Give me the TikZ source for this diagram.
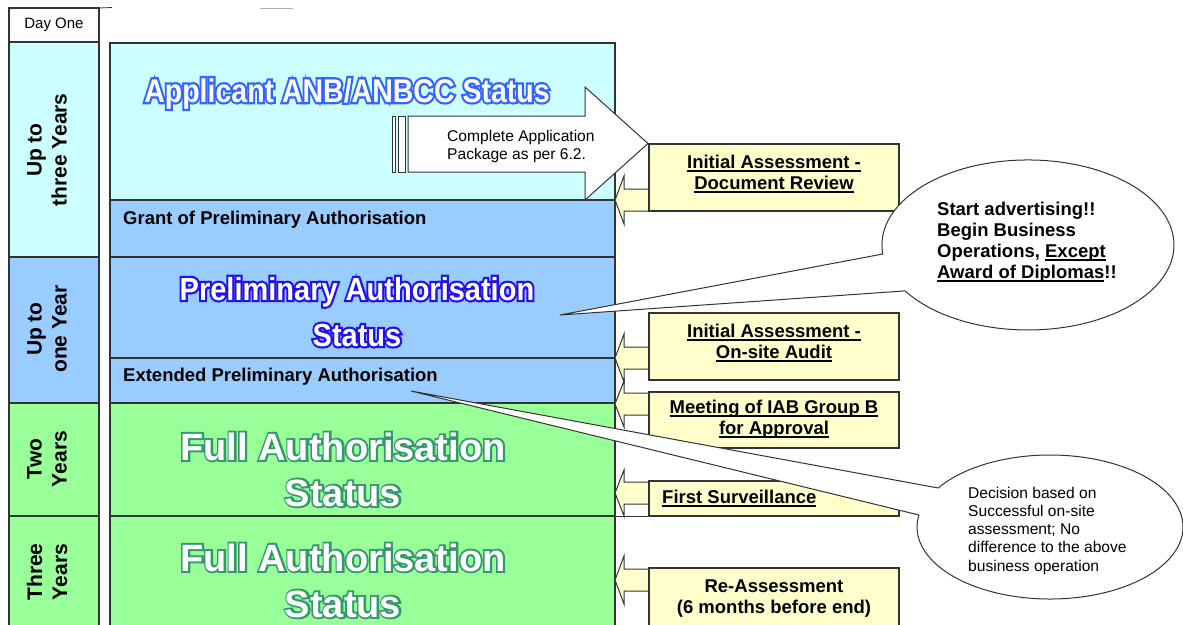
\documentclass[tikz,border=0pt]{standalone}
\usepackage{fontspec}
\setmainfont{Liberation Sans}
\newfontface\titlestroke[FakeBold=14]{Liberation Sans Bold}
\newfontface\titlestrokeg[FakeBold=10]{Liberation Sans Bold}
\newfontface\titlefill{Liberation Sans Bold}

\definecolor{cyanA}{HTML}{CCFFFF}
\definecolor{blueA}{HTML}{99CCFF}
\definecolor{greenA}{HTML}{99FF99}
\definecolor{yellowA}{HTML}{FFFFCC}
\definecolor{lineC}{HTML}{333333}
\definecolor{titleBlue}{HTML}{3366FF}
\definecolor{titleBlueB}{HTML}{2211EE}
\definecolor{titleGreen}{HTML}{33996A}

\newcommand\setfs[2]{\fontsize{#1pt}{#2pt}\selectfont}
\newcommand\ulbar[1]{\setbox0\hbox{#1}\rlap{\rule[-4pt]{\wd0}{1.6pt}}\box0}
\newcommand\mlines[2]{\begin{tabular}[t]{@{}#1@{}}#2\end{tabular}}
% #1 stroke face, #2 outline colour, #3 size, #4 vertical scale, #5 text
\newcommand\otitle[5]{\scalebox{1}[#4]{\setfs{#3}{#3}\rlap{#1\color{#2}#5}{\titlefill\color{white}#5}}}

\tikzset{
  cell/.style={draw=lineC, line width=1.1pt, anchor=north west, inner sep=0pt, outer sep=0pt},
  ybox/.style={cell, fill=yellowA, minimum width=250pt},
  yarrow/.style={draw=lineC, fill=yellowA, line width=1pt},
  bigarrow/.style={draw=lineC, fill=white, line width=1pt},
  callout/.style={draw=lineC, fill=white, line width=1pt},
  vlabel/.style={rotate=90, align=center, font=\setfs{21}{25}\bfseries, inner sep=0pt},
  rowtext/.style={anchor=base west, font=\setfs{18.5}{21}\bfseries, inner sep=0pt},
  btext/.style={anchor=base, font=\setfs{18.5}{21}\bfseries, inner sep=0pt},
  ttl/.style={anchor=base, inner sep=0pt}
}

\begin{document}
\begin{tikzpicture}[x=1pt,y=-1pt]
\useasboundingbox (0,0) rectangle (1183,624);
\fill[white] (0,0) rectangle (1183,624);
\clip (0,0) rectangle (1183,624);

% left time column
\node[cell, fill=white, minimum width=90pt, minimum height=34pt] (day) at (9,8) {\setfs{15}{18}Day One};
\node[cell, fill=cyanA, minimum width=90pt, minimum height=215pt] (l1) at (9,42) {};
\node[cell, fill=blueA, minimum width=90pt, minimum height=146pt] (l2) at (9,257) {};
\node[cell, fill=greenA, minimum width=90pt, minimum height=113pt] (l3) at (9,403) {};
\node[cell, fill=greenA, minimum width=90pt, minimum height=130pt] (l4) at (9,516) {};
\draw[lineC, line width=0.8pt] (day.north east) -- (112,7.5);
\draw[gray!60, line width=0.8pt] (260,8) -- (293,8);

\node[vlabel] (t1) at (47,150) {Up to\\three Years};
\node[vlabel] (t2) at (47,329) {Up to\\one Year};
\node[vlabel] (t3) at (47,459) {Two\\Years};
\node[vlabel] (t4) at (47,572) {Three\\Years};

% main status column
\node[cell, fill=cyanA, minimum width=505pt, minimum height=157pt] (m1) at (110,43) {};
\node[cell, fill=blueA, minimum width=505pt, minimum height=57pt] (m2) at (110,200) {};
\node[cell, fill=blueA, minimum width=505pt, minimum height=101pt] (m3) at (110,257) {};
\node[cell, fill=blueA, minimum width=505pt, minimum height=45pt] (m4) at (110,358) {};
\node[cell, fill=greenA, minimum width=505pt, minimum height=113pt] (m5) at (110,403) {};
\node[cell, fill=greenA, minimum width=505pt, minimum height=130pt] (m6) at (110,516) {};

\node[ttl] (ti1) at (347,102) {\otitle{\titlestroke}{titleBlue}{28.5}{1.15}{Applicant ANB/ANBCC Status}};
\node[ttl] (ti2a) at (357,300) {\otitle{\titlestroke}{titleBlueB}{29}{1.1}{Preliminary Authorisation}};
\node[ttl] (ti2b) at (357,346) {\otitle{\titlestroke}{titleBlueB}{29}{1.1}{Status}};
\node[ttl] (ti3a) at (343,460) {\otitle{\titlestrokeg}{titleGreen}{38}{1}{Full Authorisation}};
\node[ttl] (ti3b) at (343,506) {\otitle{\titlestrokeg}{titleGreen}{38}{1}{Status}};
\node[ttl] (ti4a) at (343,571) {\otitle{\titlestrokeg}{titleGreen}{38}{1}{Full Authorisation}};
\node[ttl] (ti4b) at (343,617) {\otitle{\titlestrokeg}{titleGreen}{38}{1}{Status}};

\node[rowtext] (grant) at (123,224) {Grant of Preliminary Authorisation};
\node[rowtext] (ext) at (123,381) {Extended Preliminary Authorisation};

% big arrow
\draw[bigarrow] (392,116) rectangle (395.5,172);
\draw[bigarrow] (398,116) rectangle (405,172);
\draw[bigarrow] (408,116) -- (585,116) -- (585,87) -- (648,143.5) -- (585,200) -- (585,172) -- (408,172) -- cycle;
\node[anchor=base west, font=\setfs{15.6}{18}, inner sep=0pt] (pkg) at (447,141)
  {\mlines{l}{Complete Application\\Package as per 6.2.}};

% small arrows and boxes
\draw[yarrow] (652,189) -- (624,189) -- (624,176) -- (615,200) -- (624,224) -- (624,211) -- (652,211) -- cycle;
\draw[yarrow] (652,347) -- (624,347) -- (624,334) -- (615,358) -- (624,382) -- (624,369) -- (652,369) -- cycle;
\draw[yarrow] (652,393) -- (624,393) -- (624,381) -- (615,404) -- (624,427) -- (624,415) -- (652,415) -- cycle;
\draw[yarrow] (652,482) -- (624,482) -- (624,470) -- (615,493) -- (624,516) -- (624,504) -- (652,504) -- cycle;
\draw[yarrow] (652,569) -- (624,569) -- (624,556) -- (615,580) -- (624,604) -- (624,591) -- (652,591) -- cycle;

\node[ybox, minimum height=67pt] (b1) at (649,144) {};
\node[ybox, minimum height=67pt] (b2) at (649,313) {};
\node[ybox, minimum height=56pt] (b3) at (649,392) {};
\node[ybox, minimum height=35pt] (b4) at (649,481) {};
\node[ybox, minimum height=80pt] (b5) at (649,568) {};
\draw[lineC, line width=1pt] (m6.north east) -- (b4.south west);

\node[btext] (b1t) at (774,168) {\mlines{c}{\ulbar{Initial Assessment -}\\\ulbar{Document Review}}};
\node[btext] (b2t) at (774,337) {\mlines{c}{\ulbar{Initial Assessment -}\\\ulbar{On-site Audit}}};
\node[btext] (b3t) at (774,413) {\mlines{c}{\ulbar{Meeting of IAB Group B}\\\ulbar{for Approval}}};
\node[rowtext] (b4t) at (662,503) {\ulbar{First Surveillance}};
\node[btext] (b5t) at (774,592) {\mlines{c}{Re-Assessment\\(6 months before end)}};

% callouts
\draw[callout] (560,315) -- (882.8,254) arc[start angle=173.9, end angle=507.3, x radius=146, y radius=85] -- cycle;
\node[anchor=base west, font=\setfs{18.5}{21}\bfseries, inner sep=0pt] (c1t) at (937,215)
  {\mlines{l}{Start advertising!!\\Begin Business\\Operations, \ulbar{Except}\\\ulbar{Award of Diplomas}!!}};

\draw[callout] (411,391) -- (938.2,488) arc[start angle=212.8, end angle=549.6, x radius=133, y radius=72] -- cycle;
\node[anchor=base west, font=\setfs{15.6}{18.3}, inner sep=0pt] (c2t) at (968,498)
  {\mlines{l}{Decision based on\\Successful on-site\\assessment; No\\difference to the above\\business operation}};
\end{tikzpicture}
\end{document}
